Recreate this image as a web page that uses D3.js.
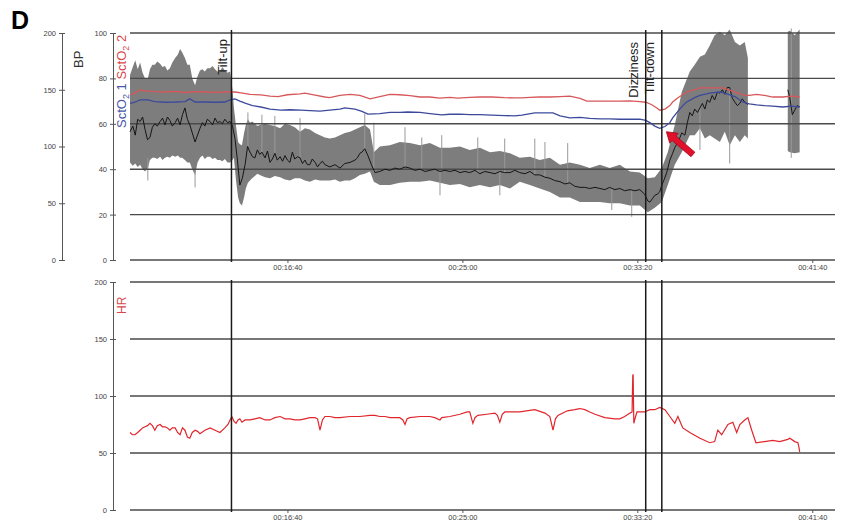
<!DOCTYPE html>
<html>
<head>
<meta charset="utf-8">
<script src="https://cdn.jsdelivr.net/npm/d3@7"></script>
<style>
  body { margin: 0; background: #fff; }
  svg { display: block; font-family: Arial, 'Liberation Sans', sans-serif; }
  .tick text { font-size: 7.5px; fill: #444; }
  .tick line, .domain { stroke: #555; }
</style>
</head>
<body>
<svg id="chart" width="850" height="527"></svg>
<script>
// time in seconds from start of recording
const events = [
  { name: 'Tilt-up', t: 840 },
  { name: 'Dizziness', t: 2024 },
  { name: 'Tilt-down', t: 2070 }
];
const timeTicks = [1000, 1500, 2000, 2500];
const bpTicks = [0, 50, 100, 150, 200];
const sctTicks = [0, 20, 40, 60, 80, 100];
const hrTicks = [0, 50, 100, 150, 200];

// mean blood pressure (black line), null = gap in recording
const bpMean = [[550,113],[558,118],[565,110],[572,124],[579,122],[586,126],[593,115],[600,106],[607,108],[614,117],
  [621,120],[628,118],[636,122],[643,125],[650,119],[657,126],[664,123],[671,118],[679,121],[686,125],[693,119],
  [700,128],[707,134],[714,124],[721,119],[728,112],[736,104],[743,110],[750,116],[757,121],[764,118],[771,124],
  [779,122],[786,119],[793,125],[800,121],[807,122],[814,120],[821,124],[829,121],[836,122],[843,118],[850,107],
  [857,88],[864,66],[871,72],[879,84],[886,100],[893,95],[900,91],[907,90],[914,97],[921,93],[927,95],[936,90],
  [943,96],[950,86],[957,89],[964,94],[971,88],[979,91],[986,87],[993,92],[1000,88],[1007,86],[1014,95],[1021,89],
  [1029,91],[1036,90],[1043,85],[1050,88],[1057,84],[1064,84],[1071,89],[1079,86],[1086,82],[1093,85],[1100,87],
  [1107,84],[1121,82],[1136,84],[1150,81],[1164,85],[1179,86],[1193,88],[1200,90],[1207,94],[1213,95],[1221,98],
  [1230,92],[1240,84],[1250,77],[1264,78],[1279,80],[1293,79],[1307,81],[1321,80],[1336,82],[1350,81],[1364,79],
  [1379,80],[1393,78],[1407,79],[1421,80],[1436,78],[1450,79],[1464,78],[1479,79],[1493,77],[1507,78],[1521,77],
  [1536,79],[1550,76],[1564,78],[1579,77],[1593,76],[1607,78],[1621,77],[1636,77],[1650,79],[1664,77],[1679,76],
  [1693,78],[1707,75],[1721,75],[1736,73],[1750,72],[1764,70],[1779,69],[1793,67],[1807,68],[1821,65],[1836,64],
  [1850,64],[1864,63],[1879,64],[1893,63],[1907,62],[1921,64],[1936,62],[1950,63],[1964,61],[1979,62],[1993,61],
  [2007,62],[2021,58],[2030,52],[2036,51],[2043,54],[2050,57],[2057,58],[2064,60],[2070,66],[2077,71],[2084,77],
  [2093,88],[2101,94],[2107,99],[2116,104],[2122,108],[2127,112],[2136,110],[2143,121],[2150,130],[2157,127],
  [2164,133],[2172,130],[2179,134],[2186,138],[2193,133],[2200,141],[2207,139],[2214,145],[2221,141],[2229,148],
  [2236,147],[2243,150],[2250,146],[2257,152],[2264,152],[2271,143],[2279,139],[2286,136],[2293,138],[2300,142],
  [2307,139],[2316,137],[2370,null],[2430,150],[2436,143],[2443,128],[2450,132],[2457,136],[2464,135]];

// BP beat-to-beat range (grey band): [t, low, high]
const bpRange = [[550,86,163],[558,83,170],[565,85,176],[572,82,168],[579,84,174],[586,80,165],[593,78,160],
  [601,81,160],[607,88,168],[614,90,172],[621,90,172],[628,89,175],[636,91,173],[643,88,170],[650,90,171],
  [657,91,167],[664,90,169],[671,92,174],[679,91,178],[687,92,181],[693,90,186],[699,90,183],[707,88,178],
  [714,86,172],[721,86,172],[728,80,160],[736,75,154],[743,86,162],[750,90,167],[757,92,168],[764,89,166],
  [771,91,169],[779,91,169],[786,89,171],[793,90,168],[800,88,166],[807,88,166],[814,87,170],[821,89,167],
  [829,86,165],[836,86,166],[843,88,150],[847,90,134],[853,70,118],[859,55,104],[864,50,102],[870,48,101],
  [876,55,112],[881,63,119],[887,68,124],[893,70,121],[899,72,122],[907,74,120],[914,76,118],[921,75,119],
  [936,73,120],[950,72,119],[964,74,118],[979,73,116],[993,71,120],[1007,70,119],[1021,72,117],[1036,72,113],
  [1050,70,116],[1064,69,115],[1079,71,112],[1093,70,110],[1107,70,108],[1121,70,107],[1136,71,108],[1150,69,110],
  [1164,70,112],[1179,70,113],[1193,72,115],[1207,75,117],[1221,76,119],[1236,78,115],[1247,69,95],[1264,66,100],
  [1293,66,101],[1321,68,104],[1350,69,103],[1379,69,101],[1407,70,103],[1436,68,99],[1464,66,99],[1493,67,100],
  [1521,64,97],[1550,66,99],[1579,64,95],[1607,66,96],[1636,63,94],[1664,69,90],[1693,66,91],[1721,63,88],
  [1750,60,90],[1779,55,84],[1807,55,86],[1836,51,84],[1864,51,81],[1893,51,84],[1921,50,81],[1950,50,84],
  [1979,48,78],[2007,48,77],[2030,42,72],[2050,46,73],[2070,51,81],[2087,66,95],[2107,84,119],[2127,95,148],
  [2150,110,166],[2164,110,172],[2179,116,179],[2193,107,181],[2207,110,189],[2221,107,198],[2236,104,201],
  [2250,113,198],[2264,101,203],[2279,110,192],[2293,104,189],[2307,110,192],[2316,107,178],[2370,null,null],
  [2430,96,201],[2436,95,202],[2450,94,198],[2464,95,203]];

// isolated BP needles: [t, from, to]
const bpSpikes = [[601,70,90],[736,64,80],[887,100,130],[927,95,128],[964,94,127],[1036,90,125],[1221,98,129],
  [1247,77,121],[1336,82,117],[1384,79,108],[1436,57,78],[1441,79,110],[1544,77,108],[1607,57,78],[1621,77,107],
  [1707,75,107],[1736,73,104],[1801,67,103],[1927,44,64],[1984,38,62],[2179,97,134],[2264,85,152],[2440,90,204]];

// cerebral oxygenation, channel 1 (blue) and channel 2 (red)
const sct1 = [[550,69],[564,69.5],[579,70.5],[601,70.5],[621,69.8],[650,69.5],[679,69.6],[707,69.8],[721,71],
  [736,69.6],[764,69.6],[793,69.5],[821,69.6],[836,70.5],[850,71],[864,70],[881,69],[900,68],[924,67.4],
  [950,66.5],[981,66],[1007,66.2],[1039,66],[1064,65.8],[1093,65.6],[1121,66],[1150,66.5],[1164,67],[1193,66.5],
  [1213,65.5],[1230,64.3],[1264,64.5],[1293,65],[1321,65],[1344,65.2],[1379,65],[1407,64.5],[1441,63.9],
  [1464,64.2],[1493,64.3],[1521,64],[1550,64],[1584,63.8],[1621,63.6],[1650,63.5],[1670,63.8],[1707,64.8],
  [1736,64.8],[1759,64.8],[1779,63.5],[1807,62.6],[1836,62.8],[1864,62.4],[1893,62.2],[1921,62.2],[1950,62],
  [1979,62],[2007,62.1],[2024,61.5],[2036,60.5],[2050,59],[2064,58],[2079,58.8],[2093,60.5],[2101,62.6],
  [2116,65.5],[2130,68],[2141,69.6],[2164,71.5],[2179,72.5],[2207,73.5],[2236,74],[2250,73.5],[2279,72],
  [2301,69.6],[2320,68.8],[2341,68.3],[2364,68],[2387,67.8],[2416,67.4],[2440,67.8],[2464,67.4]];
const sct2 = [[550,72.7],[564,73.5],[579,74.9],[593,74.5],[621,74.2],[650,74],[679,74.3],[707,73.8],[736,74.2],
  [764,74],[793,73.8],[821,74],[850,74],[867,73.6],[893,73],[924,72.7],[950,72.2],[973,72],[1000,72.8],
  [1036,73.2],[1050,73.5],[1079,72.6],[1107,71.8],[1121,71.5],[1150,72.5],[1179,73],[1207,72.5],[1236,71],
  [1264,72],[1293,73],[1321,72.8],[1350,72.4],[1379,71.8],[1407,71.8],[1436,71.3],[1464,71.6],[1487,71.3],
  [1521,71.6],[1550,71.8],[1584,71.8],[1621,71.5],[1650,71.4],[1670,71.4],[1693,71.6],[1721,71.8],[1750,71.8],
  [1779,72],[1807,72.2],[1836,71.2],[1856,70],[1893,70],[1921,70],[1950,70],[1979,70.1],[2007,69.8],[2024,69.5],
  [2040,68.5],[2056,67],[2064,66],[2079,66.5],[2093,68],[2101,69.6],[2116,71.5],[2141,74],[2164,75],[2179,75.8],
  [2207,75.8],[2244,75.8],[2270,74.5],[2301,72.7],[2320,72.5],[2341,73],[2364,72.5],[2387,71.8],[2416,71.8],
  [2440,72.2],[2464,71.8]];

// heart rate
const hr = [[550,68],[557,66],[564,66],[572,68],[579,70],[586,72],[593,73],[600,74],[607,76],[614,74],[621,70],
  [628,74],[636,75],[643,73],[650,73],[657,72],[664,70],[671,72],[679,72],[686,68],[693,66],[700,72],[707,70],
  [714,64],[721,63],[728,68],[736,70],[743,69],[750,67],[764,70],[779,72],[793,70],[807,68],[821,72],[830,75],
  [836,79],[841,82],[847,78],[853,76],[859,79],[864,80],[870,77],[879,79],[893,79],[907,80],[921,81],[936,79],
  [950,79],[964,81],[979,82],[993,80],[1007,80],[1021,79],[1036,79],[1050,80],[1064,81],[1079,81],[1086,80],
  [1093,70],[1100,79],[1107,82],[1121,82],[1136,81],[1150,81],[1179,82],[1207,82],[1236,83],[1250,83],[1264,82],
  [1279,82],[1293,81],[1307,81],[1321,81],[1330,79],[1336,75],[1342,80],[1350,81],[1379,82],[1407,82],[1421,81],
  [1436,79],[1441,81],[1464,82],[1493,84],[1514,86],[1521,86],[1530,76],[1536,81],[1544,83],[1570,84],[1593,85],
  [1600,83],[1607,77],[1614,84],[1621,86],[1664,86],[1707,88],[1736,85],[1750,82],[1759,70],[1766,80],[1773,83],
  [1800,87],[1821,88],[1836,89],[1850,88],[1864,86],[1879,84],[1907,81],[1936,80],[1950,80],[1964,82],[1979,85],
  [1985,86],[1987,118],[1988,119],[1990,76],[1995,82],[1999,86],[2007,86],[2021,86],[2036,88],[2050,88],[2064,90],
  [2079,88],[2093,82],[2107,76],[2116,82],[2130,72],[2150,68],[2179,63],[2207,59],[2221,60],[2230,70],[2241,66],
  [2259,75],[2273,77],[2284,68],[2293,75],[2307,79],[2316,81],[2327,70],[2339,59],[2364,60],[2387,61],[2407,60],
  [2430,62],[2436,63],[2450,60],[2459,59],[2462,55],[2464,51]];

// red arrow pointing at the SctO2 dip: tail -> tip [t, sct]
const arrowTail = [2159, 46.5];
const arrowTip = [2083, 56.5];

const svg = d3.select('#chart');

const x = d3.scaleLinear().domain([550, 2565]).range([130, 835]);
const yBP = d3.scaleLinear().domain([0, 200]).range([260, 33]);
const ySct = d3.scaleLinear().domain([0, 100]).range([260, 33]);
const yHR = d3.scaleLinear().domain([0, 200]).range([510, 282]);

function hms(s) {
  const h = Math.floor(s / 3600), m = Math.floor(s % 3600 / 60), sec = s % 60;
  return [h, m, sec].map((v) => String(v).padStart(2, '0')).join(':');
}

// ---- top panel ----
let topPanel = svg.append('g');

topPanel.append('path')
  .datum(bpRange)
  .attr('fill', '#7d7d7d')
  .attr('d', d3.area()
    .defined((d) => d[1] != null)
    .x((d) => x(d[0]))
    .y0((d) => yBP(d[1]))
    .y1((d) => yBP(d[2])));

topPanel.selectAll('.spike')
  .data(bpSpikes)
  .enter()
  .append('line')
  .attr('x1', (d) => x(d[0]))
  .attr('x2', (d) => x(d[0]))
  .attr('y1', (d) => yBP(d[1]))
  .attr('y2', (d) => yBP(d[2]))
  .attr('stroke', '#999')
  .attr('stroke-width', 1);

topPanel.selectAll('.grid')
  .data(sctTicks)
  .enter()
  .append('line')
  .attr('x1', 130).attr('x2', 835)
  .attr('y1', (d) => ySct(d)).attr('y2', (d) => ySct(d))
  .attr('stroke', '#4a4a4a')
  .attr('stroke-width', 1.4);

topPanel.append('path')
  .datum(bpMean)
  .attr('fill', 'none')
  .attr('stroke', '#151515')
  .attr('stroke-width', 1)
  .attr('d', d3.line().defined((d) => d[1] != null).x((d) => x(d[0])).y((d) => yBP(d[1])));

topPanel.append('path')
  .datum(sct2)
  .attr('fill', 'none')
  .attr('stroke', '#d8575a')
  .attr('stroke-width', 1.3)
  .attr('d', d3.line().x((d) => x(d[0])).y((d) => ySct(d[1])));

topPanel.append('path')
  .datum(sct1)
  .attr('fill', 'none')
  .attr('stroke', '#3c4a9c')
  .attr('stroke-width', 1.3)
  .attr('d', d3.line().x((d) => x(d[0])).y((d) => ySct(d[1])));

// axes
svg.append('g')
  .attr('transform', 'translate(62,0)')
  .call(d3.axisLeft(yBP).tickValues(bpTicks).tickSize(3).tickSizeOuter(0));
svg.append('g')
  .attr('transform', 'translate(62,0)')
  .call(d3.axisRight(yBP).tickValues(bpTicks).tickSize(3).tickSizeOuter(0).tickFormat(''));
svg.append('g')
  .attr('transform', 'translate(113,0)')
  .call(d3.axisLeft(ySct).tickValues(sctTicks).tickSize(3).tickSizeOuter(0));
svg.append('g')
  .attr('transform', 'translate(113,0)')
  .call(d3.axisRight(ySct).tickValues(sctTicks).tickSize(3).tickSizeOuter(0).tickFormat(''));
svg.append('g')
  .attr('transform', 'translate(0,260)')
  .call(d3.axisBottom(x).tickValues(timeTicks).tickFormat(hms).tickSize(3).tickPadding(2))
  .select('.domain').remove();

// ---- bottom panel ----
svg.selectAll('.hgrid')
  .data(hrTicks)
  .enter()
  .append('line')
  .attr('x1', 130).attr('x2', 835)
  .attr('y1', (d) => yHR(d)).attr('y2', (d) => yHR(d))
  .attr('stroke', '#4a4a4a')
  .attr('stroke-width', 1.4);

svg.append('path')
  .datum(hr)
  .attr('fill', 'none')
  .attr('stroke', '#e0262c')
  .attr('stroke-width', 1.2)
  .attr('d', d3.line().x((d) => x(d[0])).y((d) => yHR(d[1])));

svg.append('g')
  .attr('transform', 'translate(113,0)')
  .call(d3.axisLeft(yHR).tickValues(hrTicks).tickSize(3).tickSizeOuter(0));
svg.append('g')
  .attr('transform', 'translate(113,0)')
  .call(d3.axisRight(yHR).tickValues(hrTicks).tickSize(3).tickSizeOuter(0).tickFormat(''));
svg.append('g')
  .attr('transform', 'translate(0,510)')
  .call(d3.axisBottom(x).tickValues(timeTicks).tickFormat(hms).tickSize(3).tickPadding(2))
  .select('.domain').remove();

// ---- event markers ----
events.forEach((e) => {
  [[30, 262], [280, 512]].forEach((r) => {
    svg.append('line')
      .attr('x1', x(e.t)).attr('x2', x(e.t))
      .attr('y1', r[0]).attr('y2', r[1])
      .attr('stroke', '#1a1a1a')
      .attr('stroke-width', 1.5);
  });
  svg.append('text')
    .attr('transform', 'translate(' + (x(e.t) - (e.name == 'Tilt-up' ? 4 : 8)) + ',' + (e.name == 'Tilt-up' ? 39 : 42) + ') rotate(-90)')
    .attr('text-anchor', 'end')
    .attr('font-size', 13)
    .attr('fill', '#222')
    .text(e.name);
});

// ---- arrow ----
let ax0 = x(arrowTail[0]), ay0 = ySct(arrowTail[1]);
let ax1 = x(arrowTip[0]), ay1 = ySct(arrowTip[1]);
let len = Math.hypot(ax1 - ax0, ay1 - ay0);
let ux = (ax1 - ax0) / len, uy = (ay1 - ay0) / len;
let px = -uy, py = ux;
let head = 10, hw = 6.5, sw = 3;
let bx = ax1 - ux * head, by = ay1 - uy * head;
let pts = [
  [ax0 + px * sw, ay0 + py * sw], [bx + px * sw, by + py * sw], [bx + px * hw, by + py * hw],
  [ax1, ay1],
  [bx - px * hw, by - py * hw], [bx - px * sw, by - py * sw], [ax0 - px * sw, ay0 - py * sw]
];
svg.append('polygon')
  .attr('points', pts.map((p) => p.join(',')).join(' '))
  .attr('fill', '#e3102c')
  .attr('stroke', '#9c0a1c')
  .attr('stroke-width', 0.8);

// ---- labels ----
svg.append('text')
  .attr('x', 11).attr('y', 29)
  .attr('font-size', 25).attr('font-weight', 'bold')
  .text('D');

svg.append('text')
  .attr('transform', 'translate(83,68) rotate(-90)')
  .attr('font-size', 13).attr('fill', '#333')
  .text('BP');

let sctLabel = svg.append('text')
  .attr('transform', 'translate(126,128) rotate(-90)')
  .attr('font-size', 13);
sctLabel.append('tspan').attr('fill', '#4a56a6').text('SctO');
sctLabel.append('tspan').attr('fill', '#4a56a6').attr('font-size', 9).attr('dy', 3).text('2');
sctLabel.append('tspan').attr('fill', '#4a56a6').attr('dy', -3).text(' 1 ');
sctLabel.append('tspan').attr('fill', '#d9474c').text('SctO');
sctLabel.append('tspan').attr('fill', '#d9474c').attr('font-size', 9).attr('dy', 3).text('2');
sctLabel.append('tspan').attr('fill', '#d9474c').attr('dy', -3).text(' 2');

svg.append('text')
  .attr('transform', 'translate(126,314) rotate(-90)')
  .attr('font-size', 12).attr('fill', '#d9474c')
  .text('HR');
</script>
</body>
</html>
